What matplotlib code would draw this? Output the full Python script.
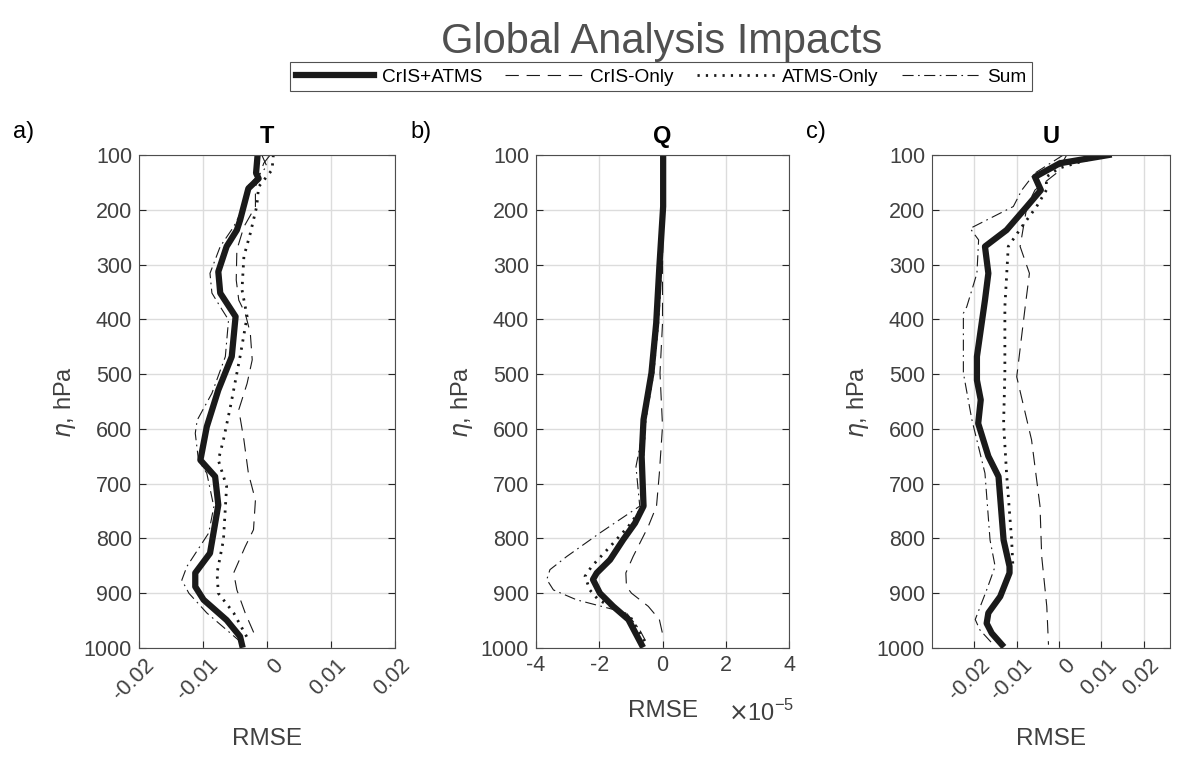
import matplotlib
matplotlib.use("Agg")
import matplotlib.pyplot as plt
import matplotlib.transforms as mtransforms
import numpy as np

plt.rcParams['font.family'] = ['Liberation Sans', 'DejaVu Sans']

# ---- T panel (RMSE change) ----
t_both_p = [100, 133, 143, 161, 219, 237, 267, 313, 352, 395, 468, 529, 596, 657,
            687, 739, 827, 863, 888, 912, 949, 979, 994]
t_both = [-0.00146, -0.0017, -0.0013, -0.0029, -0.0042, -0.0047, -0.0063, -0.0076,
          -0.0073, -0.0049, -0.0055, -0.0076, -0.0094, -0.0104, -0.0081, -0.0076,
          -0.0089, -0.0112, -0.0112, -0.0099, -0.0063, -0.0042, -0.0039]
t_cris_p = [100, 115, 158, 194, 231, 273, 328, 365, 389, 425, 474, 517, 565, 620,
            681, 730, 784, 815, 863, 894, 936, 979]
t_cris = [0.0005, -0.0005, -0.0018, -0.0018, -0.0036, -0.0047, -0.0048, -0.0044,
          -0.0034, -0.0026, -0.0023, -0.0031, -0.0044, -0.0036, -0.0029, -0.0018,
          -0.0021, -0.0034, -0.0052, -0.0047, -0.0034, -0.0018]
t_atms_p = [100, 127, 158, 194, 243, 285, 346, 395, 468, 559, 620, 657, 705, 803,
            863, 900, 936, 985]
t_atms = [0.001, 0.0008, -0.0013, -0.0016, -0.0026, -0.0036, -0.0039, -0.0031,
          -0.0042, -0.0057, -0.0068, -0.0076, -0.0063, -0.0068, -0.0078, -0.0076,
          -0.0052, -0.0029]
t_sum_p = [100, 121, 158, 194, 231, 267, 316, 352, 377, 401, 468, 535, 584, 608,
           657, 681, 742, 790, 851, 876, 900, 936, 973, 994]
t_sum = [-0.0008, 0.0, -0.0031, -0.0036, -0.0052, -0.0073, -0.0089, -0.0086,
         -0.0073, -0.006, -0.0065, -0.0086, -0.0109, -0.0112, -0.0107, -0.0094,
         -0.0083, -0.0091, -0.0125, -0.0133, -0.0122, -0.0094, -0.0057, -0.0036]

# ---- Q panel (units of 1e-5) ----
q_both_p = [100, 194, 304, 407, 498, 583, 650, 741, 772, 802, 839, 863, 875, 900,
            924, 948, 994]
q_both = [0.02, 0.02, -0.1, -0.2, -0.35, -0.6, -0.66, -0.6, -0.87, -1.24, -1.66,
          -2.08, -2.2, -1.98, -1.56, -1.08, -0.66]
q_cris_p = [100, 194, 304, 407, 498, 595, 681, 741, 778, 833, 863, 888, 900, 924,
            948, 979]
q_cris = [0.02, 0.02, 0.0, 0.0, -0.08, 0.0, -0.1, -0.19, -0.45, -0.93, -1.16,
          -1.14, -0.98, -0.45, -0.1, 0.02]
q_atms_p = [100, 194, 304, 407, 498, 583, 650, 741, 778, 815, 851, 869, 894, 912,
            942, 994]
q_atms = [0.02, 0.02, -0.05, -0.15, -0.3, -0.55, -0.62, -0.61, -1.08, -1.66,
          -2.24, -2.45, -2.3, -2.03, -1.03, -0.5]
q_sum_p = [100, 194, 304, 407, 498, 583, 669, 741, 790, 833, 857, 875, 894, 912,
           936, 967, 991]
q_sum = [0.02, 0.02, -0.08, -0.18, -0.32, -0.55, -0.84, -0.72, -1.98, -3.03,
         -3.56, -3.66, -3.45, -2.72, -1.14, -0.72, -0.5]

# ---- U panel ----
u_both_p = [100, 115, 140, 164, 194, 237, 267, 316, 365, 468, 511, 547, 590, 650,
            687, 803, 851, 863, 906, 936, 955, 973, 994]
u_both = [0.0117, 0.0002, -0.0057, -0.0043, -0.0076, -0.0124, -0.0175, -0.0167,
          -0.0175, -0.0194, -0.0194, -0.0185, -0.0191, -0.0167, -0.0143, -0.0131,
          -0.0117, -0.0117, -0.0139, -0.0167, -0.0171, -0.0159, -0.0135]
u_cris_p = [100, 133, 164, 194, 267, 316, 377, 505, 620, 741, 833, 924, 994]
u_cris = [0.0018, -0.0006, -0.0057, -0.0076, -0.0092, -0.007, -0.008, -0.01,
          -0.0065, -0.0045, -0.0041, -0.0029, -0.0025]
u_atms_p = [100, 124, 140, 164, 194, 231, 267, 377, 498, 590, 681, 803, 851]
u_atms = [0.0105, 0.0, -0.003, -0.003, -0.0053, -0.0088, -0.012, -0.0128, -0.0128,
          -0.0131, -0.0124, -0.0112, -0.0109]
u_sum_p = [100, 133, 164, 194, 234, 255, 316, 377, 389, 498, 583, 681, 803, 851,
           894, 948, 967, 994]
u_sum = [0.001, -0.0057, -0.0088, -0.0108, -0.021, -0.019, -0.0194, -0.0218,
         -0.0226, -0.0226, -0.0206, -0.0175, -0.0163, -0.0151, -0.0171, -0.0198,
         -0.0187, -0.0155]

levels = [100, 200, 300, 400, 500, 600, 700, 800, 900, 1000]
names = ['CrIS+ATMS', 'CrIS-Only', 'ATMS-Only', 'Sum']

txt = '#404040'
fig = plt.figure(figsize=(12, 7.61), dpi=100)
shift = mtransforms.ScaledTranslation(5 / 100, 0, fig.dpi_scale_trans)

panels = [
    ('T', 'a)', [0.1158, 0.1485, 0.2133, 0.6478], (-0.02, 0.02),
     [-0.02, -0.01, 0, 0.01, 0.02], ['-0.02', '-0.01', '0', '0.01', '0.02'], 45,
     [(t_both_p, t_both), (t_cris_p, t_cris), (t_atms_p, t_atms), (t_sum_p, t_sum)]),
    ('Q', 'b)', [0.4467, 0.1485, 0.2108, 0.6478], (-4, 4),
     [-4, -2, 0, 2, 4], ['-4', '-2', '0', '2', '4'], 0,
     [(q_both_p, q_both), (q_cris_p, q_cris), (q_atms_p, q_atms), (q_sum_p, q_sum)]),
    ('U', 'c)', [0.7767, 0.1485, 0.1983, 0.6478], (-0.03, 0.0262),
     [-0.02, -0.01, 0, 0.01, 0.02], ['-0.02', '-0.01', '0', '0.01', '0.02'], 45,
     [(u_both_p, u_both), (u_cris_p, u_cris), (u_atms_p, u_atms), (u_sum_p, u_sum)]),
]

handles = None
for title, tag, pos, xlim, xt, xtl, rot, series in panels:
    ax = fig.add_axes(pos)
    (p0, v0), (p1, v1), (p2, v2), (p3, v3) = series
    h0, = ax.plot(v0, p0, color='#1a1a1a', lw=4.5, solid_joinstyle='round')
    h1, = ax.plot(v1, p1, color='#1a1a1a', lw=0.8, dashes=(12, 7))
    h2, = ax.plot(v2, p2, color='#1a1a1a', lw=2.0, dashes=(0.8, 2.2))
    h3, = ax.plot(v3, p3, color='#1a1a1a', lw=0.8, dashes=(10, 4, 1.5, 4))
    handles = [h0, h1, h2, h3]
    ax.set_xlim(*xlim)
    ax.set_ylim(1000, 100)
    ax.set_yticks(levels)
    ax.set_xticks(xt)
    ax.grid(True, color='#dcdcdc', lw=1.0)
    ax.set_axisbelow(True)
    ax.tick_params(direction='in', length=5, colors='#262626', labelsize=15.5,
                   top=False, right=True, labelcolor=txt, pad=5)
    labs = ax.set_xticklabels(xtl, rotation=rot,
                              ha='right' if rot else 'center',
                              va='top', rotation_mode='anchor' if rot else 'default')
    if rot:
        for lab in labs:
            lab.set_transform(lab.get_transform() + shift)
    for s in ax.spines.values():
        s.set_color('#4d4d4d')
        s.set_linewidth(0.8)
    ax.set_title(title, fontsize=17, fontweight='bold', color='black', pad=9)
    ax.set_ylabel(r'$\eta$, hPa', fontsize=17, color=txt, labelpad=4)
    ax.set_xlabel('RMSE', fontsize=17.5, color=txt,
                  labelpad=16.5 if rot else 17.5)
    fig.text(pos[0] - 0.105, 0.8265, tag, fontsize=17,
             color='black', ha='left', va='center')

fig.text(0.607, 0.063, r'$\times$10$^{\mathregular{-5}}$', fontsize=17,
         color=txt, ha='left', va='center')

fig.text(0.551, 0.945, 'Global Analysis Impacts', fontsize=30, color='#505050',
         ha='center', va='center')

leg = fig.legend(handles, names, loc='center', bbox_to_anchor=(0.551, 0.899),
                 ncol=4, fontsize=13.7, frameon=True, fancybox=False,
                 edgecolor='#262626', handlelength=4.1, columnspacing=1.2,
                 handletextpad=0.4, borderpad=0.3, borderaxespad=0)
leg.get_frame().set_linewidth(0.8)

fig.savefig('out.png', dpi=100)
